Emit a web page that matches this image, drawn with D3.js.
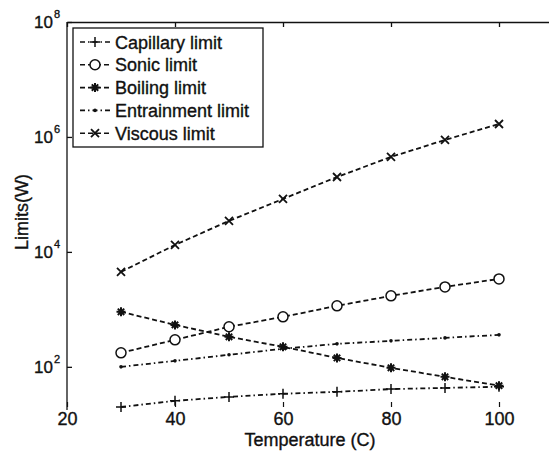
<!DOCTYPE html>
<html lang="en">
<head>
    <meta charset="UTF-8">
    <title>Heat pipe limits vs temperature</title>
    <script src="https://d3js.org/d3.v7.min.js"></script>
    <style>
        body {
            margin: 0;
            background-color: white;
            font-family: "Liberation Sans", Arial, sans-serif;
        }
        svg text {
            fill: #111;
            stroke: #111;
            stroke-width: 0.35px;
        }
    </style>
</head>
<body>
    <svg id="chart" width="549" height="455"></svg>

    <script>
        // Data (log scale on y)
        const temperatures = [30, 40, 50, 60, 70, 80, 90, 100];
        const capillaryLimit = [20, 25.6, 30, 34, 36.7, 41, 43, 45];
        const sonicLimit = [175, 295, 497, 741, 1150, 1720, 2460, 3390];
        const boilingLimit = [906, 537, 333, 223, 143, 96, 67, 47];
        const entrainmentLimit = [100, 127, 162, 206, 251, 283, 319, 360];
        const viscousLimit = [4490, 13200, 34600, 83500, 201000, 449000, 887000, 1680000];

        const seriesNames = ["Capillary limit", "Sonic limit", "Boiling limit", "Entrainment limit", "Viscous limit"];
        const xTicks = [20, 40, 60, 80, 100];
        const yTicks = [1e2, 1e4, 1e6, 1e8];

        const series = [
            { name: seriesNames[0], values: capillaryLimit, marker: "plus", dash: "5,3,1.5,3" },
            { name: seriesNames[1], values: sonicLimit, marker: "circle", dash: "5,3" },
            { name: seriesNames[2], values: boilingLimit, marker: "star", dash: "5,3" },
            { name: seriesNames[3], values: entrainmentLimit, marker: "dot", dash: "5,3,1.5,3" },
            { name: seriesNames[4], values: viscousLimit, marker: "cross", dash: "5,3" }
        ];

        const svg = d3.select("#chart");
        const ink = "#111";
        const fontSize = "18px";

        const x = d3.scaleLinear().domain([20, 110]).range([67, 553]);
        const y = d3.scaleLog().domain([20, 1e8]).range([407, 22]);

        // marker drawing helper
        function drawMarker(g, type, cx, cy) {
            const s = g.append("g").attr("transform", `translate(${cx},${cy})`)
                .attr("stroke", ink).attr("fill", "none").attr("stroke-width", 1.5);
            if (type === "plus") {
                s.append("path").attr("d", "M-5,0H5M0,-5V5");
            } else if (type === "circle") {
                s.append("circle").attr("r", 5).attr("fill", "white");
            } else if (type === "star") {
                s.append("path").attr("d", "M-4.5,0H4.5M0,-4.5V4.5M-3.2,-3.2L3.2,3.2M-3.2,3.2L3.2,-3.2")
                    .attr("stroke-width", 2);
            } else if (type === "dot") {
                s.append("circle").attr("r", 1.8).attr("fill", ink).attr("stroke", "none");
            } else if (type === "cross") {
                s.append("path").attr("d", "M-4,-4L4,4M-4,4L4,-4").attr("stroke-width", 1.8);
            }
        }

        // axes
        const xAxis = d3.axisBottom(x)
            .tickValues(xTicks)
            .tickSizeInner(-5)
            .tickSizeOuter(0)
            .tickPadding(5);

        const xg = svg.append("g")
            .attr("transform", "translate(0,407)")
            .call(xAxis);
        xg.select(".domain").remove();
        xg.selectAll("line").attr("stroke", ink).attr("stroke-width", 1.2);
        xg.selectAll("text")
            .style("font-size", fontSize)
            .style("font-family", "'Liberation Sans', Arial, sans-serif");

        // top border with ticks
        const topAxis = d3.axisTop(x).tickValues(xTicks).tickSizeInner(-5).tickSizeOuter(0).tickFormat("");
        svg.append("g").attr("transform", "translate(0,22)").call(topAxis)
            .selectAll("path, line").attr("stroke", ink).attr("stroke-width", 1.3);

        const yAxis = d3.axisLeft(y)
            .tickValues(yTicks)
            .tickSizeInner(-5)
            .tickSizeOuter(0)
            .tickFormat("");

        const yg = svg.append("g")
            .attr("transform", "translate(67,0)")
            .call(yAxis);
        yg.selectAll("path, line").attr("stroke", ink).attr("stroke-width", 1.3);
        yg.select(".domain").attr("d", `M0,${y.range()[1]}V${y.range()[0] + 3}`);

        // y tick labels as 10 with superscript exponent
        yTicks.forEach(v => {
            svg.append("text")
                .attr("x", 53)
                .attr("y", y(v) + 6)
                .attr("text-anchor", "end")
                .style("font-size", "17px")
                .text("10");
            svg.append("text")
                .attr("x", 54)
                .attr("y", y(v) - 4)
                .style("font-size", "11px")
                .text(Math.round(Math.log10(v)));
        });

        // axis titles
        svg.append("text")
            .attr("x", (x.range()[0] + x.range()[1]) / 2)
            .attr("y", 446)
            .attr("text-anchor", "middle")
            .style("font-size", fontSize)
            .text("Temperature (C)");

        svg.append("text")
            .attr("transform", `translate(28,212) rotate(-90)`)
            .attr("text-anchor", "middle")
            .style("font-size", fontSize)
            .text("Limits(W)");

        // lines and markers
        const line = d3.line()
            .x((d, i) => x(temperatures[i]))
            .y(d => y(d));

        series.forEach(s => {
            svg.append("path")
                .datum(s.values)
                .attr("d", line)
                .attr("fill", "none")
                .attr("stroke", ink)
                .attr("stroke-width", 1.8)
                .attr("stroke-dasharray", s.dash);
            s.values.forEach((v, i) => drawMarker(svg, s.marker, x(temperatures[i]), y(v)));
        });

        // legend
        const legend = svg.append("g");
        legend.append("rect")
            .attr("x", 73).attr("y", 28)
            .attr("width", 190).attr("height", 119)
            .attr("fill", "white")
            .attr("stroke", ink)
            .attr("stroke-width", 1.3);

        series.forEach((s, i) => {
            const ly = 42 + i * 22.8;
            legend.append("line")
                .attr("x1", 80).attr("x2", 110)
                .attr("y1", ly).attr("y2", ly)
                .attr("stroke", ink)
                .attr("stroke-width", 1.6)
                .attr("stroke-dasharray", s.dash);
            drawMarker(legend, s.marker, 95, ly);
            legend.append("text")
                .attr("x", 115)
                .attr("y", ly + 6.5)
                .style("font-size", fontSize)
                .text(s.name);
        });
    </script>
</body>
</html>
